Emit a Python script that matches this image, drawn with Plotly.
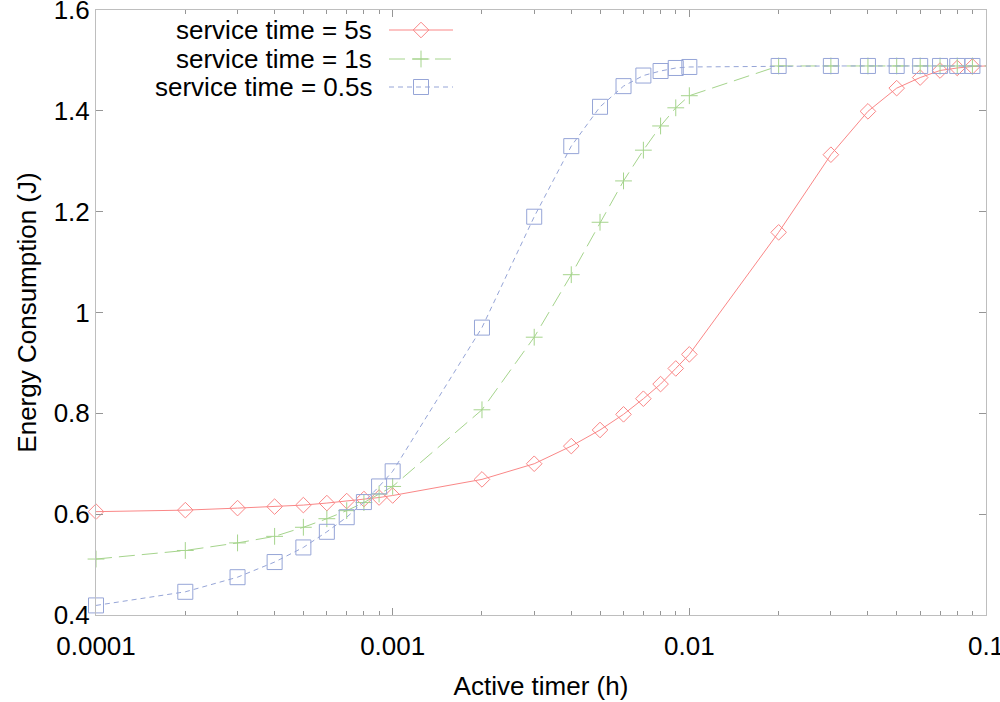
import plotly.graph_objects as go

# active timer values (h)
timer = [0.0001, 0.0002, 0.0003, 0.0004, 0.0005, 0.0006, 0.0007, 0.0008, 0.0009,
         0.001, 0.002, 0.003, 0.004, 0.005, 0.006, 0.007, 0.008, 0.009,
         0.01, 0.02, 0.03, 0.04, 0.05, 0.06, 0.07, 0.08, 0.09, 0.1]

# energy consumption (J) per service time
energy_5s = [0.605, 0.608, 0.612, 0.615, 0.618, 0.622, 0.626, 0.630, 0.633,
             0.637, 0.669, 0.700, 0.735, 0.767, 0.798, 0.829, 0.858, 0.889,
             0.917, 1.159, 1.313, 1.399, 1.445, 1.466, 1.480, 1.485, 1.488, 1.489]
energy_1s = [0.511, 0.528, 0.543, 0.556, 0.574, 0.591, 0.607, 0.623, 0.640,
             0.655, 0.807, 0.951, 1.075, 1.179, 1.261, 1.322, 1.370, 1.406,
             1.430, 1.489, 1.489, 1.489, 1.489, 1.489, 1.489, 1.489, 1.489, 1.489]
energy_05s = [0.419, 0.446, 0.475, 0.505, 0.534, 0.565, 0.594, 0.624, 0.655,
              0.685, 0.970, 1.190, 1.330, 1.408, 1.449, 1.470, 1.479, 1.485,
              1.487, 1.489, 1.489, 1.489, 1.489, 1.489, 1.489, 1.489, 1.489, 1.489]

labels = ["service time = 5s", "service time = 1s", "service time = 0.5s"]

x_ticks = [0.0001, 0.001, 0.01, 0.1]
x_ticktext = ["0.0001", "0.001", "0.01", "0.1"]
y_ticks = [0.4, 0.6, 0.8, 1.0, 1.2, 1.4, 1.6]
y_ticktext = ["0.4", "0.6", "0.8", "1", "1.2", "1.4", "1.6"]
x_minor = [m * 10 ** e for e in (-4, -3, -2) for m in range(2, 10)]

RED = "rgb(250,135,135)"
GREEN = "rgb(165,212,140)"
BLUE = "rgb(150,165,215)"

styles = [
    dict(color=RED, dash="solid", symbol="diamond-open", size=12),
    dict(color=GREEN, dash="16px,7px", symbol="cross-thin-open", size=12),
    dict(color=BLUE, dash="5px,4px", symbol="square-open", size=15),
]
series = [energy_5s, energy_1s, energy_05s]

fig = go.Figure()

for ys, st, name in zip(series, styles, labels):
    fig.add_trace(go.Scatter(
        x=timer, y=ys, mode="lines+markers", name=name,
        line=dict(color=st["color"], width=1, dash=st["dash"]),
        marker=dict(symbol=st["symbol"], size=st["size"], color=st["color"],
                    line=dict(color=st["color"], width=1)),
        cliponaxis=False, showlegend=False,
    ))

# gnuplot-style key: text on the left, sample on the right
key_y = [30, 59, 87]
for st, name, ky in zip(styles, labels, key_y):
    fig.add_trace(go.Scatter(
        x=[389, 453], y=[ky, ky], xaxis="x2", yaxis="y2", mode="lines",
        line=dict(color=st["color"], width=1, dash=st["dash"]),
        showlegend=False, hoverinfo="skip",
    ))
    fig.add_trace(go.Scatter(
        x=[421], y=[ky], xaxis="x2", yaxis="y2", mode="markers",
        marker=dict(symbol=st["symbol"], size=st["size"], color=st["color"],
                    line=dict(color=st["color"], width=1)),
        showlegend=False, hoverinfo="skip",
    ))
    fig.add_annotation(x=374, y=ky, xref="x2", yref="y2", text=name,
                       showarrow=False, xanchor="right", yanchor="middle",
                       font=dict(size=26, color="black"))

axis_style = dict(
    showline=True, linecolor="rgb(190,190,190)", linewidth=1, mirror="allticks",
    ticks="inside", ticklen=7, tickcolor="rgb(150,150,150)", tickwidth=1,
    showgrid=False, zeroline=False, automargin=False,
    ticklabeloverflow="allow",
    tickfont=dict(size=26, color="black"),
)

fig.update_layout(
    width=1000, height=702,
    margin=dict(l=96, r=14, t=10, b=87),
    paper_bgcolor="white", plot_bgcolor="white",
    font=dict(family="Liberation Sans, Arial, sans-serif", size=26, color="black"),
    xaxis=dict(
        type="log", range=[-4, -1],
        tickvals=x_ticks, ticktext=x_ticktext, ticklabelstandoff=8,
        minor=dict(tickvals=x_minor, ticks="inside", ticklen=4,
                   tickcolor="rgb(150,150,150)", showgrid=False),
        title=dict(text="Active timer (h)", font=dict(size=26), standoff=16),
        **axis_style,
    ),
    yaxis=dict(
        range=[0.4, 1.6], tickvals=y_ticks, ticktext=y_ticktext,
        title=dict(text="Energy Consumption (J)", font=dict(size=26), standoff=9),
        **axis_style,
    ),
    xaxis2=dict(overlaying="x", range=[96, 986], visible=False, fixedrange=True),
    yaxis2=dict(overlaying="y", range=[615, 10], visible=False, fixedrange=True),
)

fig.write_html("out.html", config={"displayModeBar": False},
               post_script="document.body.style.margin='0';"
                           "document.body.style.overflow='hidden';")
